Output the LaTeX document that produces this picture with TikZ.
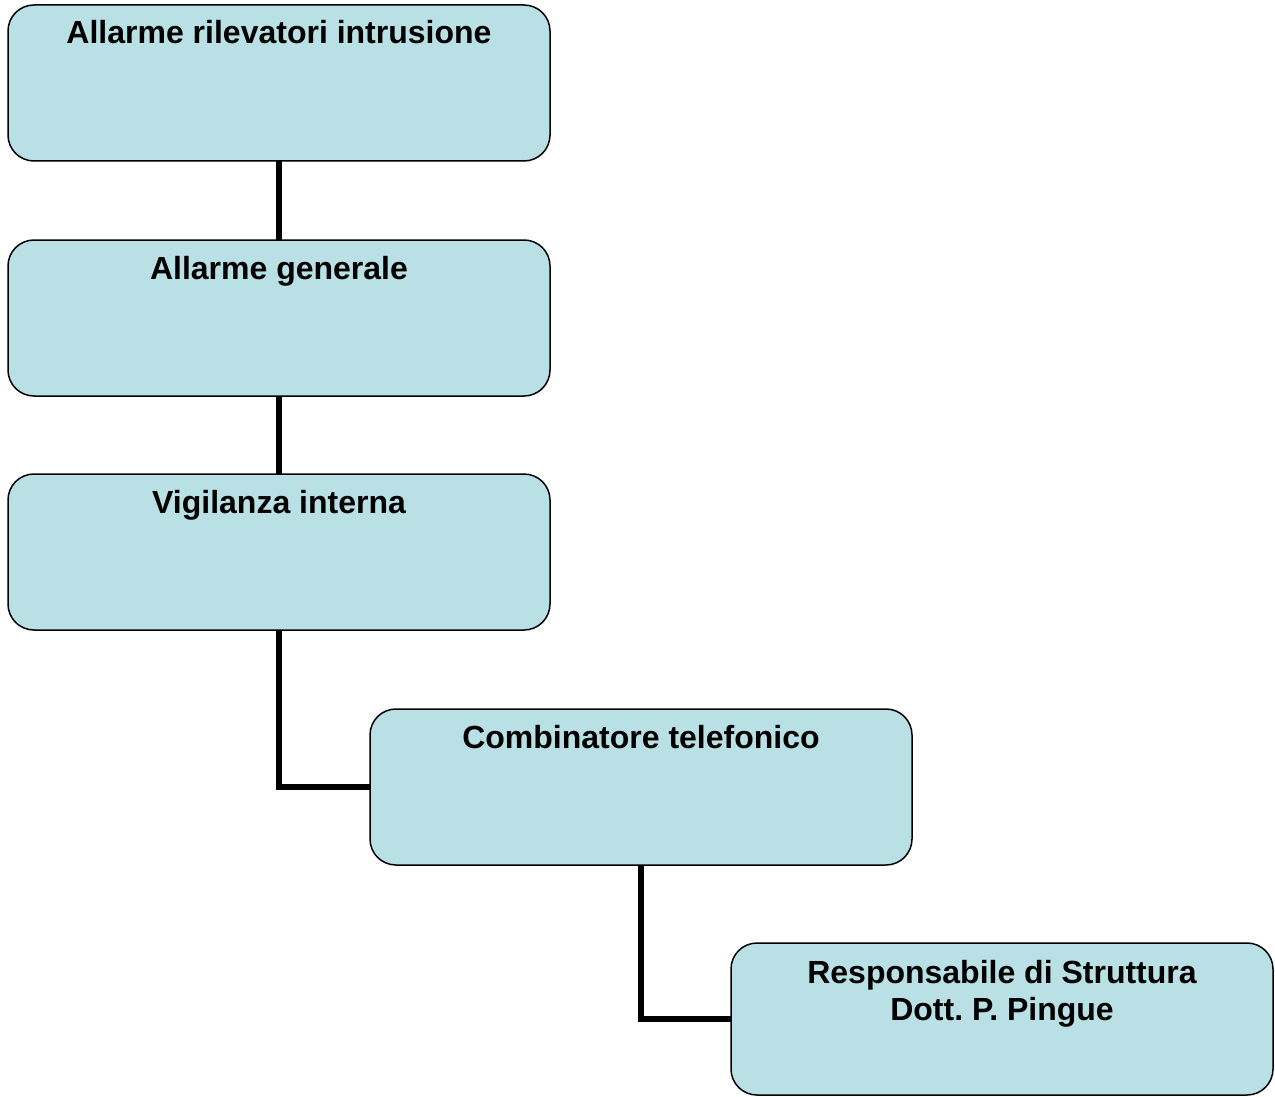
\documentclass[tikz,border=0pt]{standalone}
\usepackage{fontspec}
\setmainfont{Liberation Sans}
\frenchspacing
\definecolor{boxfill}{RGB}{185,224,228}
\begin{document}
\begin{tikzpicture}[x=1pt,y=-1pt,
  flowbox/.style={draw=black, line width=1.5pt, fill=boxfill, rounded corners=26pt,
    minimum width=542pt, minimum height=156pt, inner sep=0pt, outer sep=0pt},
  boxtext/.style={anchor=base, align=center, inner sep=0pt,
    font=\fontsize{32}{37}\selectfont\bfseries},
  link/.style={line width=5.5pt, draw=black}]
  \useasboundingbox (0,0) rectangle (1275,1097);

  % boxes
  \node[flowbox] (b1) at (279,83) {};
  \node[flowbox] (b2) at (279,318) {};
  \node[flowbox] (b3) at (279,552) {};
  \node[flowbox] (b4) at (641,787) {};
  \node[flowbox, minimum height=152pt] (b5) at (1002,1019) {};

  % connectors
  \draw[link] (b1.south) -- (b2.north);
  \draw[link] (b2.south) -- (b3.north);
  \draw[link] (b3.south) |- (b4.west);
  \draw[link] (b4.south) |- (b5.west);

  % captions
  \node[boxtext] (t1) at ([yshift=-39pt]b1.north) {Allarme rilevatori intrusione};
  \node[boxtext] (t2) at ([yshift=-39pt]b2.north) {Allarme generale};
  \node[boxtext] (t3) at ([yshift=-39pt]b3.north) {Vigilanza interna};
  \node[boxtext] (t4) at ([yshift=-39pt]b4.north) {Combinatore telefonico};
  \node[boxtext, anchor=north] (t5) at ([yshift=-17pt]b5.north) {Responsabile di Struttura\\Dott. P. Pingue};
\end{tikzpicture}
\end{document}
